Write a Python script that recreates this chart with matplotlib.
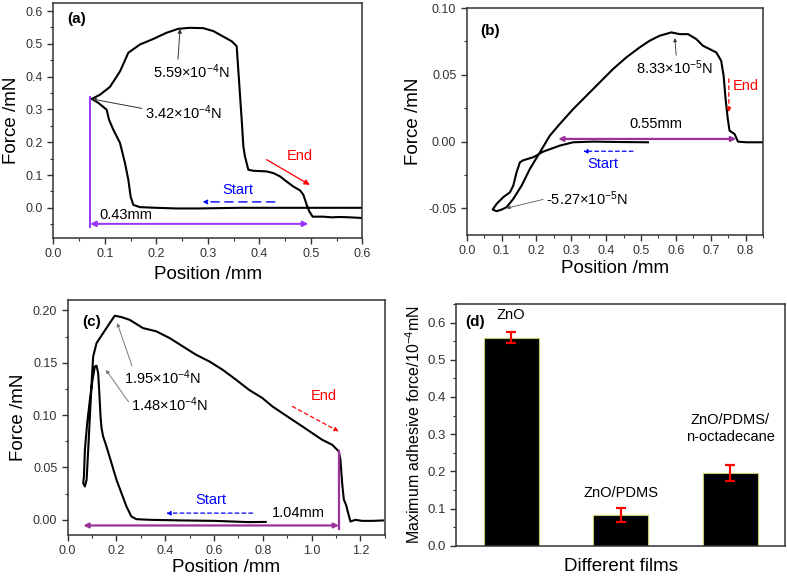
import matplotlib
matplotlib.use("Agg")
import matplotlib.pyplot as plt
from matplotlib.ticker import MultipleLocator

plt.rcParams['font.family'] = ['Liberation Sans', 'DejaVu Sans']
plt.rcParams['mathtext.fontset'] = 'custom'
plt.rcParams['mathtext.rm'] = 'Liberation Sans'
plt.rcParams['mathtext.it'] = 'Liberation Sans:italic'
plt.rcParams['mathtext.bf'] = 'Liberation Sans:bold'
plt.rcParams['axes.unicode_minus'] = False

# ---------------- data ----------------
# (a) ZnO
a_x = [0.600, 0.560, 0.520, 0.480, 0.440, 0.400, 0.360, 0.320, 0.280, 0.240, 0.200, 0.168,
       0.1553, 0.150, 0.1456, 0.139, 0.1294, 0.1165, 0.108, 0.1036, 0.0874, 0.0745,
       0.0906, 0.110, 0.1294, 0.1456, 0.168, 0.194, 0.220, 0.2427, 0.265, 0.291, 0.3107,
       0.3463, 0.356, 0.3657, 0.369, 0.372, 0.3786, 0.388, 0.414, 0.427, 0.440, 0.453,
       0.466, 0.479, 0.4854, 0.492, 0.497, 0.5035, 0.524, 0.540, 0.557, 0.575, 0.599]
a_y = [0.000, 0.000, 0.000, 0.000, 0.000, 0.000, 0.000, -0.001, -0.002, -0.002, 0.000, 0.002,
       0.009, 0.0345, 0.0855, 0.137, 0.198, 0.238, 0.269, 0.299, 0.320, 0.332,
       0.345, 0.369, 0.416, 0.473, 0.498, 0.515, 0.534, 0.546, 0.549, 0.548, 0.539,
       0.508, 0.493, 0.269, 0.187, 0.157, 0.116, 0.113, 0.111, 0.106, 0.096, 0.080,
       0.065, 0.053, 0.040, 0.009, -0.011, -0.027, -0.027, -0.029, -0.028, -0.029, -0.031]

# (b) ZnO/PDMS
b_x = [0.520, 0.440, 0.3627, 0.3055, 0.267, 0.2195, 0.191, 0.162, 0.1527, 0.143, 0.1336,
       0.124, 0.105, 0.086, 0.0745, 0.086, 0.1003, 0.1146, 0.1336, 0.1575, 0.1814, 0.21,
       0.2386, 0.267, 0.3055, 0.3437, 0.3818, 0.42, 0.458, 0.4964, 0.5251, 0.5536, 0.587,
       0.611, 0.635, 0.6587, 0.6777, 0.697, 0.716, 0.730, 0.737, 0.7427, 0.749, 0.754,
       0.7685, 0.778, 0.802, 0.849]
b_y = [-0.0005, -0.0003, 0.0, -0.0005, -0.003, -0.0075, -0.0117, -0.014, -0.0155, -0.023, -0.033,
       -0.038, -0.0416, -0.0466, -0.0509, -0.0521, -0.0509, -0.0491, -0.0429, -0.033, -0.0204, -0.008,
       0.0045, 0.0132, 0.0244, 0.0344, 0.0444, 0.0544, 0.0631, 0.0706, 0.0756, 0.0793, 0.0818,
       0.0805, 0.0805, 0.0768, 0.0718, 0.0693, 0.0668, 0.0606, 0.0494, 0.0319, 0.017, 0.0082,
       0.0057, 0.0, -0.0005, -0.0005]

# (c) ZnO/PDMS/n-octadecane
c_x = [0.812, 0.744, 0.600, 0.472, 0.336, 0.2816, 0.261, 0.241, 0.2204, 0.200, 0.1796, 0.159,
       0.1453, 0.1388, 0.1347, 0.129, 0.1249, 0.1184, 0.1114, 0.102, 0.091, 0.080, 0.0706,
       0.0665, 0.0637, 0.0706, 0.0776, 0.0841, 0.091, 0.098, 0.1045, 0.1184, 0.1453, 0.1727,
       0.193, 0.2204, 0.254, 0.3086, 0.3633, 0.4176, 0.472, 0.5265, 0.581, 0.635, 0.690,
       0.744, 0.798, 0.839, 0.880, 0.921, 0.962, 1.0024, 1.0433, 1.084, 1.1114, 1.118,
       1.125, 1.132, 1.141, 1.1497, 1.159, 1.180, 1.2065, 1.250, 1.292]
c_y = [-0.002, -0.0022, -0.001, -0.0006, 0.0, 0.0006, 0.0032, 0.0127, 0.0255, 0.0382, 0.0541, 0.070,
       0.0796, 0.0876, 0.0987, 0.124, 0.140, 0.1471, 0.1465, 0.1338, 0.1146, 0.0924, 0.0669,
       0.0414, 0.035, 0.0318, 0.0382, 0.0669, 0.0987, 0.1306, 0.156, 0.1688, 0.1783, 0.188,
       0.1949, 0.1936, 0.191, 0.1831, 0.180, 0.1736, 0.1656, 0.1576, 0.1512, 0.1433, 0.1338,
       0.124, 0.1163, 0.1083, 0.1019, 0.0955, 0.0892, 0.0828, 0.0764, 0.0717, 0.0653, 0.0573,
       0.035, 0.0191, 0.0143, 0.0064, -0.0016, 0.0, -0.001, -0.001, -0.0006]

# (d) bar chart
films = ['ZnO', 'ZnO/PDMS', 'ZnO/PDMS/\nn-octadecane']
max_force = [0.559, 0.083, 0.195]
force_err = [0.015, 0.019, 0.022]

# ---------------- figure ----------------
fig = plt.figure(figsize=(7.87, 5.79), dpi=100)
axa = fig.add_axes([0.0678, 0.589, 0.3926, 0.406])
axb = fig.add_axes([0.593, 0.594, 0.3765, 0.392])
axc = fig.add_axes([0.086, 0.076, 0.403, 0.406])
axd = fig.add_axes([0.580, 0.0575, 0.4175, 0.4175])

spine_col = '#333333'
for ax in (axa, axb, axc, axd):
    for s in ax.spines.values():
        s.set_color(spine_col)
        s.set_linewidth(1.1)
    ax.tick_params(which='both', direction='out', top=False, right=False,
                   colors=spine_col, labelcolor='#333333', labelsize=9)
    ax.tick_params(which='major', length=4, width=1)
    ax.tick_params(which='minor', length=2.5, width=0.8)

lw = 1.5
purple_a = '#9933FF'
purple = '#993399'

# ----- (a) -----
axa.plot(a_x, a_y, color='black', lw=lw)
axa.set_xlim(0, 0.6)
axa.set_ylim(-0.092, 0.625)
axa.xaxis.set_major_locator(MultipleLocator(0.1))
axa.xaxis.set_minor_locator(MultipleLocator(0.05))
axa.yaxis.set_major_locator(MultipleLocator(0.1))
axa.yaxis.set_minor_locator(MultipleLocator(0.05))
axa.set_xlabel('Position /mm', fontsize=13.5)
axa.set_ylabel('Force /mN', fontsize=13.5)
axa.text(0.045, 0.93, '(a)', transform=axa.transAxes, fontsize=11, fontweight='bold', va='center')
axa.plot([0.0715, 0.0715], [0.338, -0.06], color=purple_a, lw=1.4)
axa.annotate('', xy=(0.0715, -0.049), xytext=(0.495, -0.049),
             arrowprops=dict(arrowstyle='<|-|>', color=purple_a, lw=1.4, mutation_scale=8,
                             shrinkA=0, shrinkB=0))
axa.text(0.089, -0.022, '0.43mm', fontsize=10.5, va='center')
axa.annotate('5.59×10$^{-4}$N', xy=(0.246, 0.546), xytext=(0.194, 0.416), fontsize=10.5, va='center',
             arrowprops=dict(arrowstyle='-|>', color='#333333', lw=0.7, mutation_scale=6,
                             shrinkA=0, shrinkB=0, relpos=(0.32, 1.0)))
axa.annotate('3.42×10$^{-4}$N', xy=(0.0745, 0.332), xytext=(0.178, 0.289), fontsize=10.5, va='center',
             arrowprops=dict(arrowstyle='-|>', color='#333333', lw=0.7, mutation_scale=6,
                             shrinkA=0, shrinkB=0, relpos=(-0.04, 0.75)))
axa.text(0.359, 0.055, 'Start', color='blue', fontsize=10.5, ha='center', va='center')
axa.annotate('', xy=(0.29, 0.018), xytext=(0.43, 0.018),
             arrowprops=dict(arrowstyle='-|>', color='blue', lw=1.0, ls=(0, (6, 4)),
                             mutation_scale=6, shrinkA=0, shrinkB=0))
axa.text(0.479, 0.159, 'End', color='red', fontsize=10.5, ha='center', va='center')
axa.annotate('', xy=(0.498, 0.070), xytext=(0.414, 0.147),
             arrowprops=dict(arrowstyle='-|>', color='red', lw=0.9, mutation_scale=8,
                             shrinkA=0, shrinkB=0))

# ----- (b) -----
axb.plot(b_x, b_y, color='black', lw=lw)
axb.set_xlim(0, 0.85)
axb.set_ylim(-0.07, 0.10)
axb.xaxis.set_major_locator(MultipleLocator(0.1))
axb.xaxis.set_minor_locator(MultipleLocator(0.05))
axb.yaxis.set_major_locator(MultipleLocator(0.05))
axb.yaxis.set_minor_locator(MultipleLocator(0.025))
axb.set_xlabel('Position /mm', fontsize=13.5, labelpad=2)
axb.set_ylabel('Force /mN', fontsize=13.5)
axb.text(0.045, 0.9, '(b)', transform=axb.transAxes, fontsize=11, fontweight='bold', va='center')
axb.annotate('', xy=(0.2625, 0.002), xytext=(0.773, 0.002),
             arrowprops=dict(arrowstyle='<|-|>', color=purple, lw=1.6, mutation_scale=7,
                             shrinkA=0, shrinkB=0))
axb.text(0.544, 0.0135, '0.55mm', fontsize=10.5, ha='center', va='center')
axb.annotate('8.33×10$^{-5}$N', xy=(0.597, 0.0775), xytext=(0.487, 0.0556), fontsize=10.5, va='center',
             arrowprops=dict(arrowstyle='-|>', color='#333333', lw=0.6, mutation_scale=5,
                             shrinkA=0, shrinkB=0, relpos=(0.52, 1.0)))
axb.annotate('-5.27×10$^{-5}$N', xy=(0.1146, -0.0499), xytext=(0.227, -0.0424), fontsize=10.5, va='center',
             arrowprops=dict(arrowstyle='-|>', color='#555555', lw=0.6, mutation_scale=5,
                             shrinkA=0, shrinkB=0, relpos=(-0.02, 0.45)))
axb.text(0.391, -0.0167, 'Start', color='blue', fontsize=10.5, ha='center', va='center')
axb.annotate('', xy=(0.334, -0.0072), xytext=(0.477, -0.0072),
             arrowprops=dict(arrowstyle='-|>', color='blue', lw=0.9, ls=(0, (3, 2.5)),
                             mutation_scale=6, shrinkA=0, shrinkB=0))
axb.text(0.764, 0.042, 'End', color='red', fontsize=10.5, va='center')
axb.annotate('', xy=(0.752, 0.022), xytext=(0.752, 0.047),
             arrowprops=dict(arrowstyle='-|>', color='red', lw=0.9, ls=(0, (3, 2.5)),
                             mutation_scale=6, shrinkA=0, shrinkB=0))

# ----- (c) -----
axc.plot(c_x, c_y, color='black', lw=lw)
axc.set_xlim(0, 1.3)
axc.set_ylim(-0.0145, 0.21)
axc.xaxis.set_major_locator(MultipleLocator(0.2))
axc.xaxis.set_minor_locator(MultipleLocator(0.1))
axc.yaxis.set_major_locator(MultipleLocator(0.05))
axc.yaxis.set_minor_locator(MultipleLocator(0.025))
axc.set_xlabel('Position /mm', fontsize=13.5, labelpad=1)
axc.set_ylabel('Force /mN', fontsize=13.5)
axc.text(0.045, 0.905, '(c)', transform=axc.transAxes, fontsize=11, fontweight='bold', va='center')
axc.annotate('', xy=(0.064, -0.0054), xytext=(1.112, -0.0054),
             arrowprops=dict(arrowstyle='<|-|>', color=purple, lw=1.6, mutation_scale=7,
                             shrinkA=0, shrinkB=0))
axc.plot([1.112, 1.112], [0.0653, -0.009], color=purple, lw=1.6)
axc.text(0.839, 0.0064, '1.04mm', fontsize=10.5, va='center')
axc.annotate('1.95×10$^{-4}$N', xy=(0.2027, 0.188), xytext=(0.23, 0.1354), fontsize=10.5, va='center',
             arrowprops=dict(arrowstyle='-|>', color='#777777', lw=0.7, mutation_scale=5,
                             shrinkA=0, shrinkB=0, relpos=(0.12, 1.0)))
axc.annotate('1.48×10$^{-4}$N', xy=(0.1565, 0.1433), xytext=(0.261, 0.110), fontsize=10.5, va='center',
             arrowprops=dict(arrowstyle='-|>', color='#777777', lw=0.7, mutation_scale=5,
                             shrinkA=0, shrinkB=0, relpos=(-0.02, 0.55)))
axc.text(0.588, 0.0185, 'Start', color='blue', fontsize=10.5, ha='center', va='center')
axc.annotate('', xy=(0.404, 0.0064), xytext=(0.758, 0.0064),
             arrowprops=dict(arrowstyle='-|>', color='blue', lw=0.9, ls=(0, (3, 2.5)),
                             mutation_scale=6, shrinkA=0, shrinkB=0))
axc.text(0.996, 0.1178, 'End', color='red', fontsize=10.5, va='center')
axc.annotate('', xy=(1.111, 0.0844), xytext=(0.921, 0.1083),
             arrowprops=dict(arrowstyle='-|>', color='red', lw=0.9, ls=(0, (3, 2.5)),
                             mutation_scale=6, shrinkA=0, shrinkB=0))

# ----- (d) -----
pos = [1, 2, 3]
axd.bar(pos, max_force, width=0.5, color='black', edgecolor='#C8C86A', linewidth=0.8)
axd.errorbar(pos, max_force, yerr=force_err, fmt='none', ecolor='red', elinewidth=1.6,
             capsize=3.5, capthick=1.6)
axd.set_xlim(0.5, 3.5)
axd.set_ylim(0, 0.65)
axd.set_xticks([])
axd.yaxis.set_major_locator(MultipleLocator(0.1))
axd.yaxis.set_minor_locator(MultipleLocator(0.05))
axd.tick_params(axis='y', labelsize=9.5)
axd.set_xlabel('Different films', fontsize=13.5, labelpad=9)
axd.set_ylabel('Maximum adhesive force/10$^{-4}$mN', fontsize=11.5, labelpad=3)
axd.text(0.576, 0.602, '(d)', fontsize=11, fontweight='bold', va='center')
label_y = [0.62, 0.1425, 0.315]
for p, name, ly in zip(pos, films, label_y):
    axd.text(p, ly, name, fontsize=10.5, ha='center', va='center', linespacing=1.25)

fig.savefig('out.png', dpi=100)
